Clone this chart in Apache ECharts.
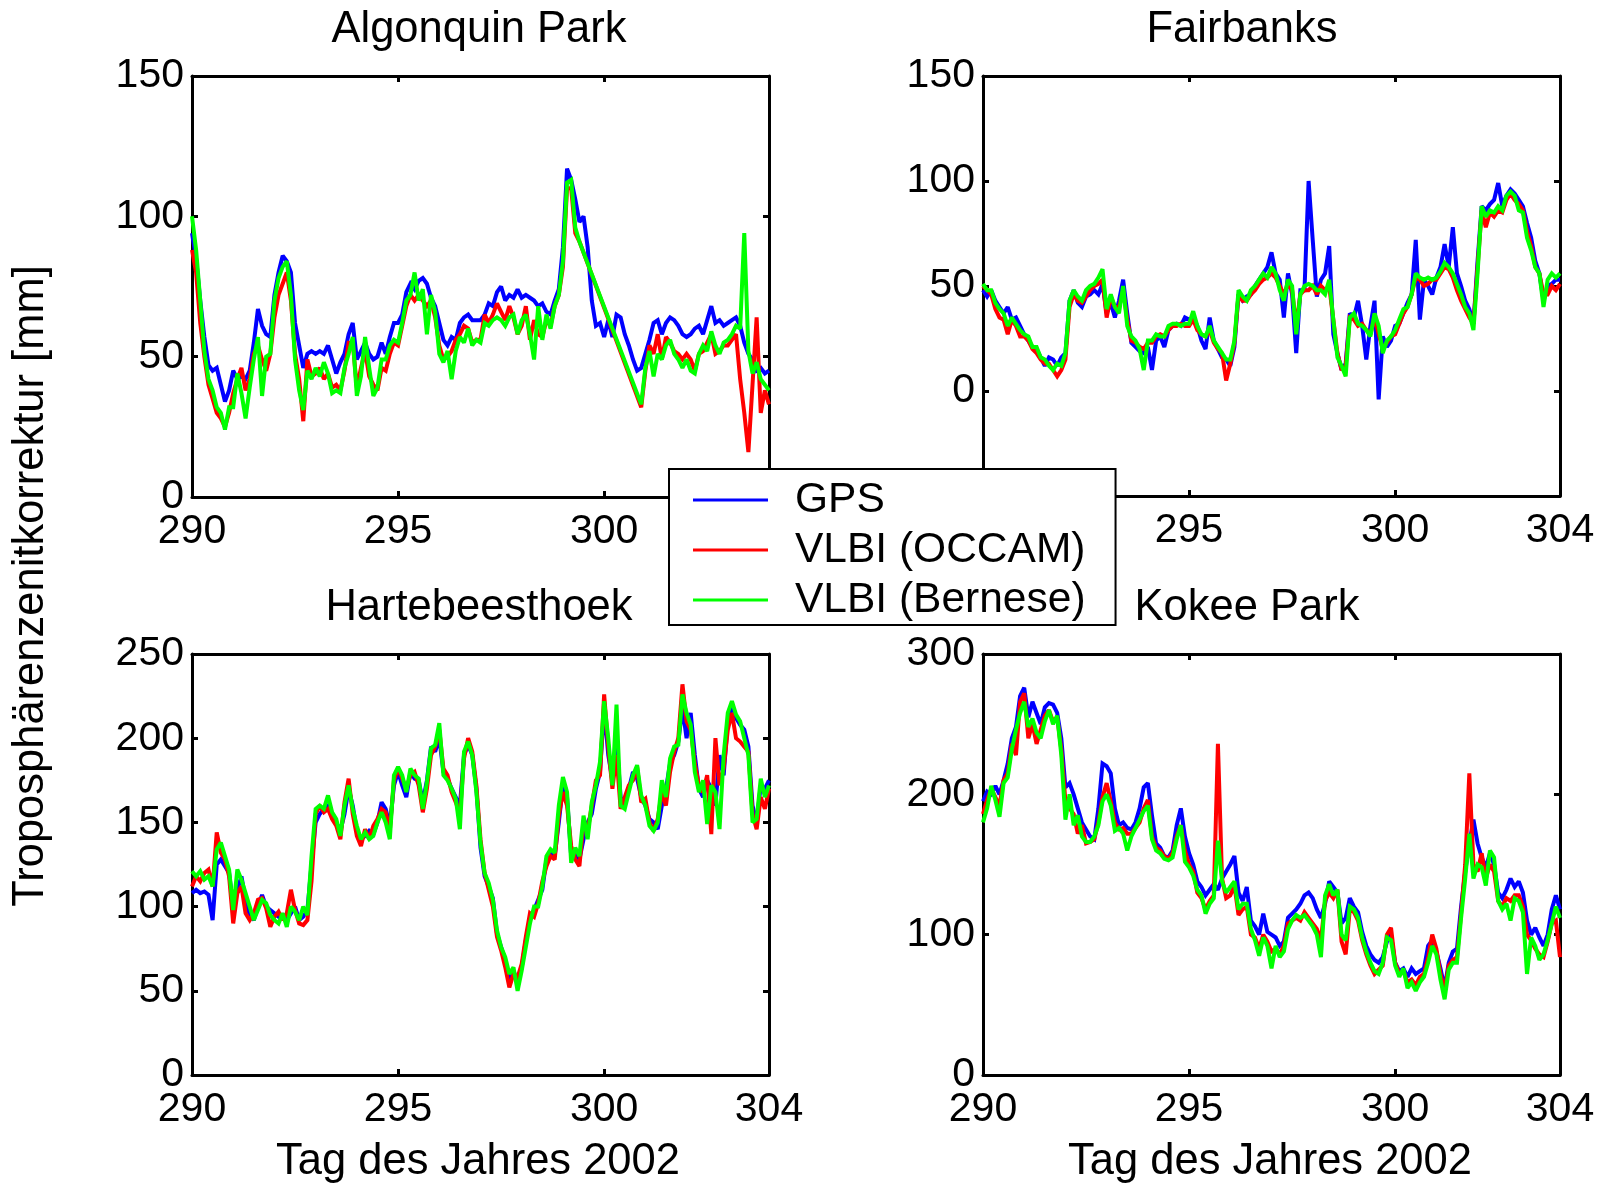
<!DOCTYPE html>
<html>
<head>
<meta charset="utf-8">
<title>Troposphärenzenitkorrektur</title>
<script src="https://cdn.jsdelivr.net/npm/echarts@6/dist/echarts.min.js"></script>
<style>
  html, body { margin: 0; padding: 0; background: #ffffff; }
  #chart { width: 1601px; height: 1183px; }
</style>
</head>
<body>
<div id="chart"></div>
<script>
// Sampling of every series: one value each 0.1 day, starting at day 290.0
const FIRST_DAY = 290;
const STEP = 0.1;

const SERIES_NAMES = ['GPS', 'VLBI (OCCAM)', 'VLBI (Bernese)'];
const SERIES_COLORS = ['#0000ff', '#ff0000', '#00ff00'];

// Algonquin Park
const ALG_GPS = [
  94, 85, 70, 57, 47, 45, 46, 40, 34, 38,
  45, 42, 43, 42, 45, 55, 67, 61, 58, 57,
  72, 80, 86, 84, 80, 62, 54, 46, 51, 52,
  51, 52, 51, 54, 49, 44, 48, 51, 58, 62,
  49, 52, 55, 51, 49, 50, 55, 51, 57, 62,
  62, 65, 73, 76, 74, 77, 78, 76, 71, 68,
  62, 56, 54, 57, 56, 62, 64, 65, 63, 63,
  63, 65, 69, 68, 73, 75, 70, 72, 71, 74,
  71, 72, 71, 70, 68, 69, 66, 65, 70, 74,
  89, 117, 113, 106, 98, 100, 89, 70, 61, 62,
  57, 63, 57, 65, 64, 58, 54, 49, 45, 46,
  51, 56, 62, 63, 58, 62, 64, 63, 61, 58,
  57, 58, 60, 61, 58, 63, 68, 62, 63, 61,
  62, 63, 64, 61, 55, 51, 49, 45, 46, 44,
  45
];
const ALG_OCC = [
  88, 80, 62, 50, 40, 35, 30, 28, 25, 30,
  37, 42, 46, 38, 42, 51, 54, 49, 45, 51,
  64, 72, 76, 80, 70, 51, 42, 27, 49, 43,
  44, 46, 42, 44, 39, 40, 38, 45, 55, 55,
  39, 46, 52, 43, 40, 38, 46, 45, 51, 55,
  54, 61, 68, 72, 70, 72, 70, 68, 70, 64,
  54, 49, 50, 52, 56, 58, 61, 60, 55, 56,
  56, 65, 62, 65, 69, 66, 63, 68, 64, 58,
  61, 68, 56, 63, 58, 57, 63, 61, 68, 72,
  82, 110, 110, 94, 91, null, null, null, null, null,
  null, null, null, null, null, null, null, null, null, 32,
  45, 54, 51, 58, 49, 57, 55, 52, 51, 49,
  51, 49, 45, 51, 52, 55, 58, 51, 52, 54,
  54, 56, 58, 42, 30, 16, 40, 64, 30, 38,
  33
];
const ALG_BER = [
  100, 88, 70, 52, 42, 38, 32, 30, 24, 32,
  32, 44, 37, 28, 39, 49, 57, 36, 50, 51,
  70, 78, 82, 84, 72, 49, 38, 31, 45, 42,
  46, 43, 48, 44, 37, 38, 37, 46, 51, 57,
  36, 43, 57, 46, 36, 39, 49, 49, 54, 56,
  55, 62, 70, 72, 80, 70, 74, 58, 72, 66,
  51, 48, 52, 42, 52, 57, 55, 60, 54, 56,
  55, 62, 61, 63, 64, 63, 61, 64, 65, 58,
  63, 65, 58, 49, 68, 56, 65, 60, 68, 72,
  84, 112, 113, 96, 91, null, null, null, null, null,
  null, null, null, null, null, null, null, null, null, 33,
  46, 52, 43, 51, 49, 54, 56, 51, 49, 46,
  49, 45, 44, 51, 54, 52, 59, 54, 51, 55,
  56, 58, 61, 60, 94, 52, 44, 48, 42, 40,
  38
];

// Fairbanks
const FAI_GPS = [
  48, 45, 48, 43, 40, 37, 40, 34, 35, 31,
  27, 24, 21, 20, 16, 12, 16, 15, 12, 16,
  18, 43, 48, 42, 40, 45, 46, 48, 46, 51,
  37, 42, 35, 43, 53, 37, 23, 21, 19, 18,
  21, 10, 24, 26, 21, 29, 31, 32, 31, 35,
  34, 35, 31, 24, 20, 35, 24, 20, 16, 15,
  12, 21, 46, 43, 45, 46, 50, 53, 56, 59,
  66, 56, 53, 35, 56, 46, 18, 48, 48, 100,
  72, 45, 53, 56, 69, 27, 18, 10, 13, 37,
  35, 43, 31, 15, 31, 43, -4, 26, 21, 24,
  31, 32, 37, 42, 46, 72, 34, 53, 50, 46,
  54, 59, 70, 59, 78, 56, 50, 43, 39, 32,
  62, 88, 86, 89, 91, 99, 88, 93, 96, 94,
  91, 88, 80, 73, 62, 56, 43, 50, 51, 53,
  53
];
const FAI_OCC = [
  50, 48, 46, 39, 35, 34, 27, 34, 31, 26,
  26, 24, 20, 18, 15, 13, 13, 10, 7, 10,
  15, 40, 46, 43, 42, 45, 48, 50, 51, 53,
  35, 45, 40, 40, 48, 34, 24, 23, 21, 20,
  23, 23, 26, 27, 26, 29, 31, 31, 32, 31,
  31, 34, 29, 27, 26, 29, 23, 20, 18, 5,
  13, 23, 46, 43, 43, 46, 48, 51, 53, 54,
  56, 54, 50, 46, 51, 48, 31, 46, 48, 48,
  50, 46, 50, 48, 50, 34, 18, 10, 12, 35,
  34, 31, 32, 29, 27, 35, 27, 20, 23, 26,
  27, 32, 37, 40, 46, 54, 53, 50, 51, 53,
  53, 56, 59, 58, 54, 48, 43, 39, 35, 32,
  59, 86, 78, 85, 83, 86, 85, 91, 94, 91,
  89, 86, 76, 69, 59, 56, 46, 46, 50, 48,
  51
];
const FAI_BER = [
  51, 48, 48, 42, 39, 37, 31, 35, 32, 29,
  27, 26, 21, 21, 16, 15, 12, 10, 13, 12,
  18, 43, 48, 45, 43, 48, 50, 51, 54, 58,
  39, 46, 40, 37, 50, 31, 26, 24, 20, 10,
  24, 24, 27, 26, 26, 31, 32, 32, 31, 32,
  32, 38, 31, 27, 26, 31, 24, 21, 18, 15,
  15, 24, 48, 45, 43, 48, 50, 53, 56, 54,
  59, 56, 48, 43, 53, 50, 27, 46, 50, 51,
  50, 48, 48, 46, 53, 34, 16, 12, 7, 35,
  37, 32, 31, 29, 26, 37, 31, 18, 24, 26,
  29, 34, 39, 40, 46, 56, 54, 53, 54, 53,
  54, 57, 61, 59, 56, 51, 46, 40, 37, 29,
  56, 88, 83, 86, 85, 88, 86, 93, 95, 93,
  86, 85, 73, 67, 59, 56, 40, 53, 56, 54,
  56
];

// Hartebeesthoek
const HAR_GPS = [
  108, 110, 108, 109, 107, 92, 125, 128, 124, 120,
  100, 110, 118, 104, 95, 92, 100, 107, 100, 98,
  96, 94, 95, 92, 96, 100, 92, 94, 98, 125,
  150, 155, 158, 160, 154, 150, 145, 155, 170, 160,
  145, 140, 142, 145, 143, 150, 162, 158, 148, 172,
  180, 172, 165, 180, 176, 175, 162, 175, 195, 192,
  200, 180, 176, 170, 165, 160, 190, 196, 190, 170,
  135, 118, 112, 105, 84, 76, 68, 56, 62, 55,
  64, 80, 92, 98, 104, 110, 128, 132, 130, 150,
  172, 165, 130, 132, 128, 140, 150, 155, 170, 180,
  218, 190, 175, 200, 165, 160, 170, 180, 176, 165,
  160, 152, 150, 146, 160, 170, 185, 190, 198, 218,
  200, 215, 190, 170, 165, 175, 170, 160, 190, 178,
  210, 220, 212, 208, 205, 195, 160, 150, 172, 170,
  175
];
const HAR_OCC = [
  112, 118, 115, 120, 122, 112, 144, 132, 128, 118,
  90, 108, 112, 96, 92, 96, 104, 105, 99, 88,
  94, 97, 92, 96, 110, 98, 90, 89, 92, 115,
  155, 160, 156, 158, 152, 148, 140, 162, 176, 155,
  142, 136, 146, 140, 148, 152, 158, 156, 145, 175,
  182, 176, 170, 178, 180, 172, 156, 170, 190, 195,
  205, 182, 178, 168, 162, 155, 188, 200, 192, 172,
  140, 120, 110, 100, 82, 74, 64, 52, 60, 58,
  66, 82, 96, 94, 102, 115, 124, 130, 128, 154,
  168, 160, 136, 128, 124, 150, 145, 160, 175, 178,
  226, 195, 170, 190, 158, 165, 172, 175, 183, 162,
  164, 150, 145, 152, 168, 160, 180, 192, 200, 232,
  210, 205, 185, 172, 168, 178, 143, 200, 172, 182,
  205, 215, 200, 198, 195, 192, 155, 146, 165, 158,
  170
];
const HAR_BER = [
  121, 118, 121, 116, 118, 112, 134, 138, 130, 122,
  98, 122, 116, 108, 100, 92, 98, 104, 102, 95,
  92, 90, 96, 88, 100, 97, 92, 100, 95, 130,
  158, 160, 158, 166, 156, 152, 142, 160, 172, 158,
  148, 140, 144, 140, 142, 150, 156, 150, 140, 178,
  183, 178, 168, 182, 178, 176, 158, 174, 194, 196,
  209, 178, 175, 170, 164, 146, 192, 198, 190, 168,
  138, 120, 114, 104, 86, 76, 70, 60, 64, 50,
  62, 76, 90, 100, 100, 112, 130, 134, 132, 160,
  177, 168, 126, 135, 130, 154, 140, 162, 172, 186,
  222, 200, 172, 220, 160, 158, 168, 178, 184, 166,
  160, 148, 145, 150, 175, 165, 188, 195, 196, 226,
  215, 208, 180, 168, 175, 149, 172, 168, 146, 190,
  215, 222, 214, 210, 200, 190, 150, 152, 176, 165,
  172
];

// Kokee Park
const KOK_GPS = [
  195, 202, 200, 206, 200, 210, 222, 240, 248, 270,
  276, 255, 266, 258, 250, 262, 265, 264, 258, 240,
  205, 208, 200, 190, 180, 175, 170, 168, 190, 222,
  220, 215, 190, 178, 180, 176, 175, 180, 190, 205,
  208, 185, 165, 162, 156, 155, 160, 178, 190, 170,
  158, 150, 138, 134, 128, 132, 136, 132, 140, 145,
  150, 156, 130, 124, 134, 110, 106, 100, 115, 102,
  100, 98, 92, 95, 112, 115, 118, 122, 128, 130,
  126, 118, 112, 122, 138, 134, 130, 108, 112, 126,
  120, 116, 102, 92, 86, 82, 80, 84, 95, 100,
  80, 74, 76, 70, 76, 72, 74, 76, 92, 96,
  88, 76, 62, 80, 88, 90, 120, 145, 165, 182,
  165, 155, 148, 158, 150, 130, 126, 132, 140, 134,
  138, 130, 110, 100, 105, 98, 92, 100, 118, 128,
  118
];
const KOK_OCC = [
  186, 196, 204, 198, 192, 210, 215, 236, 228, 266,
  272, 240, 250, 236, 246, 256, 260, 252, 255, 232,
  195, 190, 186, 172, 178, 165, 166, 168, 180, 198,
  208, 195, 180, 175, 176, 172, 172, 176, 180, 190,
  196, 170, 162, 160, 156, 154, 158, 170, 178, 160,
  150, 145, 130, 126, 118, 124, 128, 236, 140, 126,
  128, 135, 114, 118, 120, 100, 98, 90, 100, 95,
  88, 90, 86, 92, 108, 110, 112, 110, 116, 112,
  108, 104, 96, 124, 130, 126, 132, 95, 86, 118,
  116, 110, 96, 86, 78, 72, 75, 78, 100, 105,
  80, 72, 74, 66, 68, 64, 70, 72, 84, 100,
  90, 72, 60, 78, 82, 84, 115, 150, 215, 150,
  145, 158, 140, 150, 145, 124, 120, 126, 124, 128,
  128, 120, 100, 96, 90, 86, 84, 95, 108, 110,
  84
];
const KOK_BER = [
  180, 190, 206, 196, 184, 208, 212, 232, 246, 258,
  266, 248, 254, 244, 240, 252, 260, 250, 256, 228,
  182, 200, 178, 185, 170, 166, 166, 170, 178, 195,
  200, 192, 174, 176, 172, 160, 170, 176, 182, 188,
  192, 168, 160, 158, 154, 153, 155, 168, 178, 152,
  148, 142, 132, 128, 115, 122, 126, 167, 138, 130,
  134, 138, 118, 122, 122, 104, 96, 85, 98, 92,
  76, 92, 84, 88, 104, 110, 114, 112, 114, 110,
  106, 100, 84, 128, 136, 128, 132, 100, 96, 120,
  118, 112, 98, 88, 80, 74, 72, 80, 98, 96,
  78, 70, 76, 62, 66, 60, 66, 70, 80, 92,
  86, 68, 54, 75, 80, 80, 112, 140, 172, 140,
  150, 148, 135, 160, 155, 124, 118, 122, 110, 126,
  124, 116, 72, 98, 92, 82, 86, 96, 108, 120,
  112
];

// Axis settings of the four stations
const X_MIN = 290, X_MAX = 304, X_STEP = 5;
const PANEL_TITLES = ['Algonquin Park', 'Fairbanks', 'Hartebeesthoek', 'Kokee Park'];
const Y_RANGES = [[0, 150, 50], [-50, 150, 50], [0, 250, 50], [0, 300, 100]];
const PANEL_DATA = [
  [ALG_GPS, ALG_OCC, ALG_BER],
  [FAI_GPS, FAI_OCC, FAI_BER],
  [HAR_GPS, HAR_OCC, HAR_BER],
  [KOK_GPS, KOK_OCC, KOK_BER]
];

const FONT = "'Liberation Sans', Arial, Helvetica, sans-serif";
const GRIDS = [
  { left: 192, top: 76,  width: 577, height: 421 },
  { left: 983, top: 76,  width: 577, height: 420 },
  { left: 192, top: 654, width: 577, height: 421 },
  { left: 983, top: 654, width: 577, height: 421 }
];

const toPoints = (values) => values.map((v, i) => [FIRST_DAY + i * STEP, v]);

const axisLine = { show: true, onZero: false, lineStyle: { color: '#000', width: 3 } };
const axisTick = { show: true, inside: true, length: 6, lineStyle: { color: '#000', width: 3 } };
const labelStyle = { color: '#000', fontSize: 41, fontFamily: FONT };

const xAxes = [], yAxes = [], series = [];
GRIDS.forEach((g, p) => {
  const [yMin, yMax, yStep] = Y_RANGES[p];
  // bottom + top frame
  xAxes.push({
    type: 'value', gridIndex: p, position: 'bottom', min: X_MIN, max: X_MAX, interval: X_STEP,
    axisLine, axisTick, splitLine: { show: false },
    axisLabel: Object.assign({ margin: 14, formatter: (v) => String(Math.round(v)) }, labelStyle)
  });
  xAxes.push({
    type: 'value', gridIndex: p, position: 'top', min: X_MIN, max: X_MAX, interval: X_STEP,
    axisLine, axisTick, splitLine: { show: false }, axisLabel: { show: false }
  });
  // left + right frame
  yAxes.push({
    type: 'value', gridIndex: p, position: 'left', min: yMin, max: yMax, interval: yStep,
    axisLine, axisTick, splitLine: { show: false },
    axisLabel: Object.assign({ margin: 8, padding: [6, 0, 0, 0] }, labelStyle)
  });
  yAxes.push({
    type: 'value', gridIndex: p, position: 'right', min: yMin, max: yMax, interval: yStep,
    axisLine, axisTick, splitLine: { show: false }, axisLabel: { show: false }
  });
  PANEL_DATA[p].forEach((vals, s) => {
    series.push({
      type: 'line', name: SERIES_NAMES[s],
      xAxisIndex: 2 * p, yAxisIndex: 2 * p,
      data: toPoints(vals),
      showSymbol: false, symbol: 'none', connectNulls: true,
      lineStyle: { color: SERIES_COLORS[s], width: 4, join: 'miter', miterLimit: 2 },
      itemStyle: { color: SERIES_COLORS[s] },
      silent: true, animation: false
    });
  });
});

const textEl = (text, x, y, rotation) => ({
  type: 'text', x, y, rotation: rotation || 0, silent: true, z: 5,
  style: {
    text, fill: '#000', font: '43.5px ' + FONT,
    textAlign: 'center', textVerticalAlign: 'middle', align: 'center', verticalAlign: 'middle'
  }
});

const option = {
  backgroundColor: '#ffffff',
  animation: false,
  grid: GRIDS.map(g => Object.assign({ containLabel: false }, g)),
  xAxis: xAxes,
  yAxis: yAxes,
  series,
  legend: {
    data: SERIES_NAMES,
    orient: 'vertical', left: 669, top: 469,
    icon: 'rect', itemWidth: 75, itemHeight: 3, itemGap: 4,
    padding: [8, 30, 2, 24],
    backgroundColor: '#ffffff', borderColor: '#000', borderWidth: 2, borderRadius: 0,
    selectedMode: false, z: 20,
    textStyle: { color: '#000', fontSize: 42.5, fontFamily: FONT, lineHeight: 46, padding: [0, 0, 0, 22] }
  },
  graphic: [
    textEl(PANEL_TITLES[0], 479, 30),
    textEl(PANEL_TITLES[1], 1242, 30),
    textEl(PANEL_TITLES[2], 479, 608),
    textEl(PANEL_TITLES[3], 1247, 608),
    textEl('Tag des Jahres 2002', 478, 1162),
    textEl('Tag des Jahres 2002', 1270, 1162),
    textEl('Troposphärenzenitkorrektur [mm]', 31, 586, Math.PI / 2)
  ]
};

const chart = echarts.init(document.getElementById('chart'), null, { renderer: 'canvas' });
chart.setOption(option);
</script>
</body>
</html>
